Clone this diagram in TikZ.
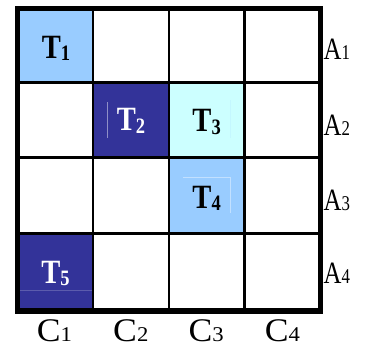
\documentclass[tikz,border=0pt]{standalone}
\usepackage{fontspec}
\setmainfont{Liberation Serif}
\definecolor{lb}{HTML}{99CCFF}
\definecolor{db}{HTML}{333399}
\definecolor{cy}{HTML}{CCFFFF}
\newcommand\tlab[2]{\scalebox{0.84}[1]{\fontsize{34}{36}\selectfont\bfseries #1\raisebox{-2.5pt}{\fontsize{22}{22}\selectfont #2}}}
\newcommand\alab[2]{\scalebox{0.8}[1]{\fontsize{31}{32}\selectfont #1\fontsize{21}{22}\selectfont #2}}
\newcommand\clab[2]{\scalebox{1.08}[1]{\fontsize{33}{36}\selectfont #1\fontsize{21}{22}\selectfont #2}}
\begin{document}
\begin{tikzpicture}[x=1pt,y=-1pt,
  lbl/.style={inner sep=0pt,anchor=base},
  clbl/.style={inner sep=0pt,anchor=base,text depth=0pt},
  rlbl/.style={inner sep=0pt,anchor=base west},
  inner/.style={line width=2.5pt,black},
  outer/.style={line width=5.5pt,black},
  faint/.style={line width=0.6pt}]
\useasboundingbox (0,0) rectangle (365,349);
% cell fills
\fill[lb] (17.5,8.5) rectangle (92.8,82.5);
\fill[db] (92.8,82.5) rectangle (168.8,157.5);
\fill[cy] (168.8,82.5) rectangle (244.5,157.5);
\fill[lb] (168.8,157.5) rectangle (244.5,233.3);
\fill[db] (17.5,233.3) rectangle (92.8,311.2);
% faint text-box traces
\draw[faint,color=db!55!white] (107,102) -- (107,138);
\draw[faint,color=db!80!white] (20,290) -- (92,290);
\draw[faint,color=lb!60!white] (183,177) -- (230,177) -- (230,213);
\draw[faint,color=cy!85!lb] (230,100) -- (230,138);
% grid
\foreach \x in {92.8,168.8,244.5} \draw[inner] (\x,8.5) -- (\x,311.2);
\foreach \y in {82.5,157.5,233.3} \draw[inner] (17.5,\y) -- (320.5,\y);
\draw[outer] (17.5,8.5) rectangle (320.5,311.2);
% task labels
\node[lbl] (t1) at (56,58) {\tlab{T}{1}};
\node[lbl,text=white] (t2) at (131,130.5) {\tlab{T}{2}};
\node[lbl] (t3) at (206.6,131.5) {\tlab{T}{3}};
\node[lbl] (t4) at (206.6,208) {\tlab{T}{4}};
\node[lbl,text=white] (t5) at (55.5,283) {\tlab{T}{5}};
% row labels
\node[rlbl] (a1) at (323.5,59.5) {\alab{A}{1}};
\node[rlbl] (a2) at (323.5,135) {\alab{A}{2}};
\node[rlbl] (a3) at (323.5,210) {\alab{A}{3}};
\node[rlbl] (a4) at (323.5,283.5) {\alab{A}{4}};
% column labels
\node[clbl] (c1) at (54.5,341.5) {\clab{C}{1}};
\node[clbl] (c2) at (130.8,341.5) {\clab{C}{2}};
\node[clbl] (c3) at (206.2,341.5) {\clab{C}{3}};
\node[clbl] (c4) at (282.5,341.5) {\clab{C}{4}};
\end{tikzpicture}
\end{document}
